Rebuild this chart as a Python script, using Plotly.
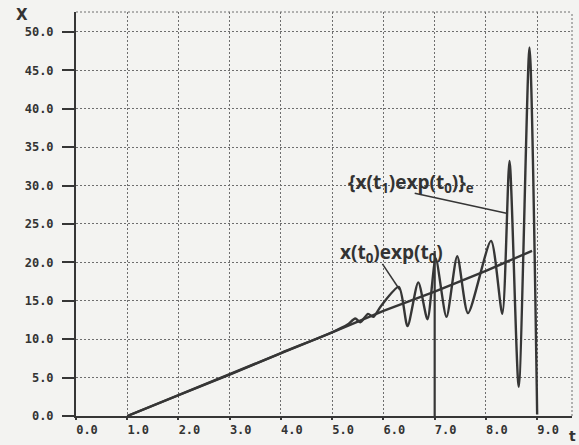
import plotly.graph_objects as go

# ---- data ----
line_x = [1.0, 2.0, 3.0, 4.0, 5.0, 6.0, 7.0, 8.0, 8.9]
line_y = [0.0, 2.7, 5.4, 8.2, 10.9, 13.7, 16.2, 18.9, 21.5]

osc_x = [1.0, 2.0, 3.0, 4.0, 5.0, 5.3, 5.45, 5.55, 5.7, 5.8, 5.95, 6.3, 6.47,
         6.68, 6.86, 7.02, 7.23, 7.44, 7.65, 8.1, 8.32, 8.46, 8.64, 8.85, 9.0]
osc_y = [0.0, 2.7, 5.4, 8.2, 10.9, 11.9, 12.7, 12.2, 13.3, 12.9, 14.3, 16.8, 11.7,
         17.4, 12.6, 20.5, 12.9, 20.8, 13.4, 22.8, 13.3, 33.2, 3.8, 48.0, 0.2]

mark_x = [7.0, 7.0]
mark_y = [0.0, 21.5]

x_ticks = [0, 1, 2, 3, 4, 5, 6, 7, 8, 9]
x_ticklabels = ["0.0", "1.0", "2.0", "3.0", "4.0", "5.0", "6.0", "7.0", "8.0", "9.0"]
y_ticks = [0, 5, 10, 15, 20, 25, 30, 35, 40, 45, 50]
y_ticklabels = ["0.0", "5.0", "10.0", "15.0", "20.0", "25.0", "30.0", "35.0", "40.0", "45.0", "50.0"]

ink = "#363636"
bg = "#f3f3f1"
grid = "#6e6e6e"

fig = go.Figure()
fig.add_trace(go.Scatter(x=osc_x, y=osc_y, mode="lines",
                         line=dict(color=ink, width=2.4, shape="spline", smoothing=0.7),
                         hoverinfo="skip"))
fig.add_trace(go.Scatter(x=line_x, y=line_y, mode="lines",
                         line=dict(color=ink, width=2.4), hoverinfo="skip"))
fig.add_trace(go.Scatter(x=mark_x, y=mark_y, mode="lines",
                         line=dict(color=ink, width=2.2), hoverinfo="skip"))

tickfont = dict(family="DejaVu Sans Mono", size=12, color="#333", weight="bold")
griddash = "2px,2px"

fig.update_layout(
    width=579, height=445,
    margin=dict(l=76, r=7, t=12, b=29),
    paper_bgcolor=bg, plot_bgcolor=bg,
    showlegend=False,
    xaxis=dict(range=[0, 9.68], tickvals=x_ticks, ticktext=x_ticklabels,
               showgrid=True, gridcolor=grid, griddash=griddash, gridwidth=1,
               showline=True, linecolor=ink, linewidth=2,
               ticks="outside", ticklen=2, tickcolor=ink, tickwidth=1.5,
               tickfont=tickfont, ticklabelshift=11, ticklabelstandoff=0,
               zeroline=False),
    yaxis=dict(range=[0, 52.6], tickvals=y_ticks, ticktext=y_ticklabels,
               showgrid=True, gridcolor=grid, griddash=griddash, gridwidth=1,
               showline=True, linecolor=ink, linewidth=2,
               ticks="outside", ticklen=12, tickcolor=ink, tickwidth=2,
               tickfont=tickfont, ticklabelstandoff=6,
               zeroline=False),
)

# dotted frame top / right
fig.add_shape(type="line", xref="paper", yref="paper", x0=0, x1=1, y0=1, y1=1,
              line=dict(color=grid, width=1, dash=griddash))
fig.add_shape(type="line", xref="paper", yref="paper", x0=1, x1=1, y0=0, y1=1,
              line=dict(color=grid, width=1, dash=griddash))

# leader lines for the labels
fig.add_shape(type="line", x0=6.61, y0=29.0, x1=8.40, y1=26.4,
              line=dict(color=ink, width=1.5))
fig.add_shape(type="line", x0=5.98, y0=19.8, x1=6.32, y1=16.4,
              line=dict(color=ink, width=1.5))

labfont = dict(family="Open Sans", size=19, color="#333", weight="bold")
fig.add_annotation(x=6.53, y=30.3, text="{x(t<sub>1</sub>)exp(t<sub>0</sub>)}<sub>e</sub>",
                   showarrow=False, font=labfont)
fig.add_annotation(x=6.15, y=21.2, text="x(t<sub>0</sub>)exp(t<sub>0</sub>)",
                   showarrow=False, font=labfont)

fig.add_annotation(xref="paper", yref="paper", x=-0.125, y=0.992, yanchor="middle",
                   text="X", showarrow=False,
                   font=dict(family="DejaVu Sans", size=15, color="#333", weight="bold"))
fig.add_annotation(xref="paper", yref="paper", x=1.013, y=-0.05, xanchor="right",
                   yanchor="middle", text="t", showarrow=False,
                   font=dict(family="DejaVu Sans", size=14, color="#333", weight="bold"))

fig.write_html("out.html")
